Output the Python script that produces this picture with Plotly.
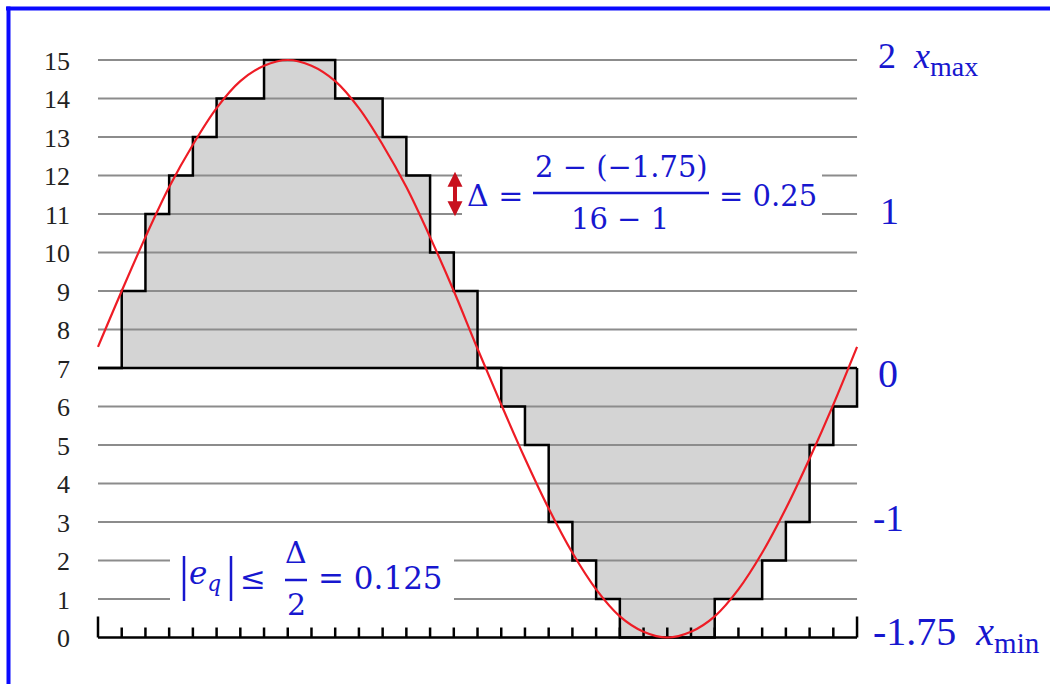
import plotly.graph_objects as go

# ---------------- data ----------------
sample_index = list(range(33))                      # sample instants 0..32
quant_levels = [7, 9, 11, 12, 13, 14, 14, 15, 15, 15, 14, 14, 13, 12, 10, 9,
                7, 6, 5, 3, 2, 1, 0, 0, 0, 0, 1, 1, 2, 3, 5, 6]   # held level per interval
signal_levels = [7.55, 9.0, 10.4, 11.7, 12.8, 13.75, 14.45, 14.85, 15.0, 14.85,
                 14.45, 13.75, 12.8, 11.7, 10.4, 9.0, 7.5, 6.05, 4.65, 3.35,
                 2.2, 1.25, 0.55, 0.15, 0.0, 0.15, 0.55, 1.25, 2.2, 3.35,
                 4.65, 6.05, 7.55]                   # analog signal read at samples
level_values = list(range(16))
level_labels = [str(v) for v in level_values]
baseline_level = 7
right_labels = ["2&nbsp;&nbsp;<i>x</i><sub><span style='font-size:28px'>max</span></sub>",
                "1", "0", "-1",
                "-1.75&nbsp;&nbsp;<i>x</i><sub><span style='font-size:29px'>min</span></sub>"]
right_label_levels = [15, 11, 7, 3, 0]

# ---------------- geometry (pixel calibration) ----------------
W, H = 1050, 684
X0_PX, DX_PX = 98.0, 23.72        # pixel of sample 0, pixels per sample
Y0_PX, DY_PX = 637.5, 38.5        # pixel of level 0, pixels per level

xr = [(0 - X0_PX) / DX_PX, (W - X0_PX) / DX_PX]
yr = [(Y0_PX - H) / DY_PX, Y0_PX / DY_PX]


def px(xp, yp):
    return xp / W, 1 - yp / H


BLUE = "#1717cf"
RED = "#ee1c25"
GRID = "#8c8c8c"
FILL = "#d4d4d4"
MATH_FONT = "DejaVu Serif"
TEXT_FONT = "Liberation Serif, Times New Roman, serif"

n = len(quant_levels)
x_start, x_end = sample_index[0], sample_index[-1]

# staircase path
stair_x, stair_y = [], []
for k in range(n):
    stair_x += [sample_index[k], sample_index[k + 1]]
    stair_y += [quant_levels[k], quant_levels[k]]
stair_x += [x_end]
stair_y += [baseline_level]

fig = go.Figure()

# gray fill between staircase and baseline
fig.add_trace(go.Scatter(
    x=stair_x + [x_start], y=stair_y + [baseline_level],
    mode="lines", fill="toself", fillcolor=FILL,
    line=dict(width=0), hoverinfo="skip", showlegend=False))

# horizontal level lines
gx, gy = [], []
for v in level_values[1:]:
    gx += [x_start, x_end, None]
    gy += [v, v, None]
fig.add_trace(go.Scatter(x=gx, y=gy, mode="lines",
                         line=dict(color=GRID, width=2),
                         hoverinfo="skip", showlegend=False))

# baseline (black)
fig.add_trace(go.Scatter(x=[x_start, x_end], y=[baseline_level, baseline_level],
                         mode="lines", line=dict(color="black", width=2.5),
                         hoverinfo="skip", showlegend=False))

# staircase outline
fig.add_trace(go.Scatter(x=stair_x, y=stair_y, mode="lines",
                         line=dict(color="black", width=2.5),
                         hoverinfo="skip", showlegend=False))

# bottom axis with ticks
small_tick = 10 / DY_PX
big_tick = 21 / DY_PX
tx, ty = [x_start, x_end, None], [0, 0, None]
for k in sample_index:
    h = big_tick if k in (x_start, x_end) else small_tick
    tx += [k, k, None]
    ty += [0, h, None]
fig.add_trace(go.Scatter(x=tx, y=ty, mode="lines",
                         line=dict(color="black", width=2.5),
                         hoverinfo="skip", showlegend=False))

# analog signal
fig.add_trace(go.Scatter(x=sample_index, y=signal_levels, mode="lines",
                         line=dict(color=RED, width=2.2, shape="spline", smoothing=1),
                         hoverinfo="skip", showlegend=False))

shapes = []
# blue frame (top and left)
shapes.append(dict(type="line", xref="paper", yref="paper",
                   x0=6 / W, x1=1.0, y0=1 - 8.5 / H, y1=1 - 8.5 / H,
                   line=dict(color="#0a0aff", width=4)))
shapes.append(dict(type="line", xref="paper", yref="paper",
                   x0=8.5 / W, x1=8.5 / W, y0=0, y1=1 - 6.5 / H,
                   line=dict(color="#0a0aff", width=4)))
# white boxes behind formulas
for (a, b, c, d) in [(462, 150, 822, 242), (170, 538, 454, 618)]:
    x0, y0 = px(a, b)
    x1, y1 = px(c, d)
    shapes.append(dict(type="rect", xref="paper", yref="paper", layer="above",
                       x0=x0, x1=x1, y0=y1, y1=y0,
                       fillcolor="white", line=dict(width=0)))
# fraction bars
for (a, b, yb) in [(533, 709, 193), (285, 307, 580)]:
    x0, y0 = px(a, yb)
    x1, _ = px(b, yb)
    shapes.append(dict(type="line", xref="paper", yref="paper", layer="above",
                       x0=x0, x1=x1, y0=y0, y1=y0,
                       line=dict(color=BLUE, width=2.5)))
# absolute-value bars
for xb in (184, 231):
    x0, y0 = px(xb, 556)
    _, y1 = px(xb, 601)
    shapes.append(dict(type="line", xref="paper", yref="paper", layer="above",
                       x0=x0, x1=x0, y0=y0, y1=y1,
                       line=dict(color=BLUE, width=2.5)))

annotations = []

# left level labels
for v, lab in zip(level_values, level_labels):
    annotations.append(dict(x=x_start, y=v, xref="x", yref="y", text=lab,
                            showarrow=False, xanchor="right", yanchor="middle",
                            xshift=-26, yshift=-1,
                            font=dict(family=TEXT_FONT, size=26, color="#222222")))

# right value labels
right_sizes = [36, 38, 40, 37, 40]
right_shift = [(19, 1), (21, 3), (19, -5), (14, 4), (14, 4)]
for lab, v, s, (xs, ys) in zip(right_labels, right_label_levels, right_sizes, right_shift):
    annotations.append(dict(x=x_end, y=v, xref="x", yref="y", text=lab,
                            showarrow=False, xanchor="left", yanchor="middle",
                            xshift=xs, yshift=ys,
                            font=dict(family=TEXT_FONT, size=s, color=BLUE)))


def math(text, xp, yp, xanchor="left", size=29):
    x, y = px(xp, yp)
    annotations.append(dict(x=x, y=y, xref="paper", yref="paper", text=text,
                            showarrow=False, xanchor=xanchor, yanchor="middle",
                            font=dict(family=MATH_FONT, size=size, color=BLUE)))


# Delta formula
math("Δ =", 465, 196, size=30)
math("2 − (−1.75)", 621, 167, "center")
math("16 − 1", 620, 219, "center")
math("= 0.25", 717, 196)
# quantization error formula
math("<i>e</i><sub><i>q</i></sub>", 187, 575, size=31)
math("≤", 253, 578, "center", size=31)
math("Δ", 296, 552, "center", size=30)
math("2", 296, 604, "center", size=30)
math("= 0.125", 316, 578, size=31)

# red double arrow showing one step
annotations.append(dict(x=15.05, y=12.1, ax=15.05, ay=10.9,
                        xref="x", yref="y", axref="x", ayref="y",
                        text="", showarrow=True, arrowside="end+start",
                        arrowhead=2, startarrowhead=2, arrowsize=0.75,
                        startarrowsize=0.75, arrowwidth=4, arrowcolor="#c8101e",
                        standoff=0, startstandoff=0))

fig.update_layout(
    width=W, height=H, autosize=False,
    margin=dict(l=0, r=0, t=0, b=0),
    paper_bgcolor="white", plot_bgcolor="white",
    xaxis=dict(range=xr, visible=False, fixedrange=True),
    yaxis=dict(range=yr, visible=False, fixedrange=True),
    shapes=shapes, annotations=annotations,
    showlegend=False,
)

fig.write_html(
    "out.html",
    config={"displayModeBar": False},
    post_script="document.documentElement.style.margin='0';"
                "document.body.style.margin='0';document.body.style.padding='0';"
                "document.body.style.overflow='hidden';",
)
